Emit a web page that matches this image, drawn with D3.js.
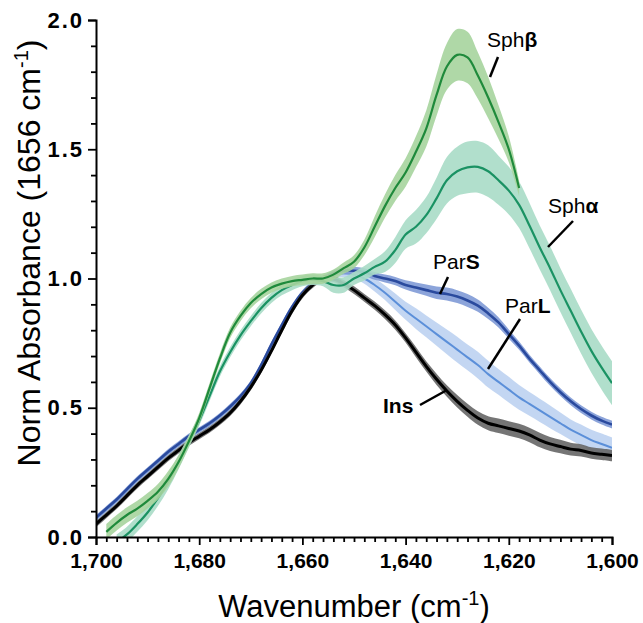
<!DOCTYPE html>
<html lang="en">
<head>
    <meta charset="UTF-8">
    <title>Norm Absorbance</title>
    <style>
        body { margin: 0; background: #fff; }
        svg text { font-family: "Liberation Sans", Arial, sans-serif; }
    </style>
</head>
<body>

<div id="chart-container"></div>

<script src="https://d3js.org/d3.v7.min.js"></script>
<script>
    // wavenumber grid (cm-1), shared by all series
    const wavenumber = [1700,1698,1696,1694,1692,1690,1688,1686,1684,1682,
                        1680,1678,1676,1674,1672,1670,1668,1666,1664,1662,
                        1660,1658,1656,1654,1652,1650,1648,1646,1644,1642,
                        1640,1638,1636,1634,1632,1630,1628,1626,1624,1622,
                        1620,1618,1616,1614,1612,1610,1608,1606,1604,1602,1600];

    const insMean = [0.05,0.085,0.12,0.16,0.20,0.235,0.27,0.305,0.335,0.365,
                     0.39,0.415,0.445,0.48,0.525,0.58,0.645,0.72,0.80,0.875,
                     0.935,0.975,1.0,0.998,0.98,0.955,0.925,0.895,0.86,0.82,
                     0.77,0.715,0.66,0.61,0.565,0.525,0.49,0.46,0.44,0.43,
                     0.42,0.41,0.395,0.375,0.36,0.35,0.34,0.335,0.325,0.32,0.315];
    const insErr  = [0.012,0.012,0.012,0.012,0.012,0.012,0.012,0.012,0.012,0.012,
                     0.012,0.012,0.012,0.012,0.012,0.012,0.012,0.012,0.012,0.012,
                     0.012,0.012,0.012,0.012,0.014,0.015,0.015,0.016,0.017,0.018,
                     0.018,0.02,0.02,0.022,0.022,0.024,0.025,0.026,0.027,0.028,
                     0.028,0.028,0.028,0.028,0.027,0.026,0.025,0.024,0.022,0.022,0.022];

    const parSMean = [0.075,0.11,0.145,0.185,0.225,0.26,0.295,0.33,0.36,0.39,
                      0.415,0.44,0.47,0.505,0.545,0.595,0.665,0.745,0.82,0.89,
                      0.945,0.98,1.0,1.02,1.03,1.03,1.025,1.01,1.0,0.99,
                      0.975,0.965,0.955,0.945,0.94,0.93,0.915,0.895,0.865,0.83,
                      0.785,0.74,0.69,0.645,0.60,0.56,0.525,0.495,0.47,0.45,0.435];
    const parSErr  = [0.01,0.01,0.01,0.01,0.01,0.01,0.01,0.01,0.01,0.01,
                      0.01,0.01,0.01,0.01,0.01,0.01,0.01,0.01,0.01,0.01,
                      0.01,0.01,0.01,0.012,0.014,0.015,0.015,0.015,0.015,0.016,
                      0.018,0.02,0.022,0.024,0.025,0.025,0.025,0.024,0.022,0.02,
                      0.018,0.016,0.015,0.015,0.015,0.015,0.015,0.015,0.015,0.015,0.015];

    const parLMean = [0.07,0.105,0.14,0.18,0.22,0.255,0.29,0.325,0.355,0.385,
                      0.41,0.435,0.465,0.50,0.54,0.59,0.66,0.74,0.815,0.885,
                      0.94,0.978,1.0,1.015,1.02,1.015,1.0,0.975,0.945,0.91,
                      0.875,0.845,0.815,0.785,0.755,0.725,0.695,0.665,0.63,0.60,
                      0.57,0.54,0.515,0.49,0.465,0.44,0.415,0.395,0.375,0.36,0.345];
    const parLErr  = [0.01,0.01,0.01,0.01,0.01,0.01,0.01,0.01,0.01,0.01,
                      0.01,0.01,0.01,0.01,0.01,0.01,0.01,0.01,0.01,0.01,
                      0.01,0.01,0.01,0.012,0.014,0.015,0.02,0.025,0.028,0.032,
                      0.035,0.04,0.042,0.045,0.048,0.05,0.05,0.052,0.052,0.05,
                      0.05,0.048,0.046,0.045,0.044,0.042,0.04,0.04,0.04,0.04,0.04];

    const sphAMean = [null,null,-0.02,0.01,0.05,0.095,0.15,0.215,0.29,0.37,
                      0.45,0.545,0.64,0.715,0.78,0.835,0.885,0.925,0.955,0.975,
                      0.99,0.995,0.99,0.975,0.975,1.0,1.02,1.045,1.065,1.11,
                      1.17,1.20,1.245,1.31,1.38,1.415,1.43,1.432,1.415,1.38,
                      1.34,1.285,1.205,1.12,1.04,0.955,0.875,0.795,0.72,0.655,0.595];
    const sphAErr  = [null,null,0.03,0.03,0.03,0.03,0.03,0.03,0.028,0.025,
                      0.02,0.02,0.02,0.02,0.02,0.02,0.02,0.02,0.02,0.02,
                      0.02,0.02,0.02,0.03,0.03,0.025,0.028,0.03,0.04,0.05,
                      0.055,0.065,0.07,0.08,0.09,0.095,0.1,0.1,0.1,0.095,
                      0.092,0.09,0.088,0.085,0.085,0.085,0.085,0.085,0.085,0.085,0.085];

    const sphBMean = [null,0.02,0.055,0.085,0.11,0.14,0.175,0.225,0.29,0.37,
                      0.46,0.575,0.69,0.79,0.855,0.905,0.94,0.965,0.98,0.99,
                      0.995,1.0,1.0,1.015,1.04,1.065,1.12,1.20,1.28,1.35,
                      1.41,1.49,1.58,1.71,1.82,1.865,1.855,1.785,1.70,1.605,
                      1.50,1.35,null,null,null,null,null,null,null,null,null];
    const sphBErr  = [null,0.03,0.03,0.03,0.03,0.03,0.03,0.03,0.025,0.02,
                      0.02,0.02,0.02,0.02,0.02,0.02,0.02,0.02,0.02,0.02,
                      0.02,0.02,0.02,0.02,0.022,0.025,0.03,0.04,0.045,0.05,
                      0.055,0.06,0.07,0.08,0.09,0.1,0.1,0.09,0.08,0.065,
                      0.05,0.03,null,null,null,null,null,null,null,null,null];

    const xTicks = [1700, 1680, 1660, 1640, 1620, 1600];
    const yTicks = [0, 0.5, 1.0, 1.5, 2.0];

    const width = 643;
    const height = 623;
    const plot = { left: 96, right: 612, top: 20, bottom: 537 };

    const svg = d3.select('#chart-container')
        .append('svg')
        .attr('width', width)
        .attr('height', height);

    const x = d3.scaleLinear().domain([1700, 1600]).range([plot.left, plot.right]);
    const y = d3.scaleLinear().domain([0, 2]).range([plot.bottom, plot.top]);

    svg.append('clipPath').attr('id', 'clip')
        .append('rect')
        .attr('x', plot.left).attr('y', plot.top)
        .attr('width', plot.right - plot.left).attr('height', plot.bottom - plot.top);

    // series in drawing order (bottom first)
    const series = [
        { name: 'ParL', mean: parLMean, err: parLErr, line: '#5b8fd9', band: '#bcd1f1', lw: 2 },
        { name: 'ParS', mean: parSMean, err: parSErr, line: '#2a4a9e', band: '#7f9ad6', lw: 2.6 },
        { name: 'Ins',  mean: insMean,  err: insErr,  line: '#000000', band: '#666666', lw: 3 },
        { name: 'Sphα', mean: sphAMean, err: sphAErr, line: '#1a9263', band: '#a9dcc6', lw: 2.2 },
        { name: 'Sphβ', mean: sphBMean, err: sphBErr, line: '#1f8a3b', band: '#a6d49d', lw: 2.2 }
    ];

    const curve = d3.curveCatmullRom.alpha(0.5);
    const layer = svg.append('g').attr('clip-path', 'url(#clip)');

    series.forEach(s => {
        const pts = wavenumber.map((w, i) => ({ w: w, m: s.mean[i], e: s.err[i] }));

        const area = d3.area()
            .defined(d => d.m != null)
            .x(d => x(d.w))
            .y0(d => y(d.m - d.e))
            .y1(d => y(d.m + d.e))
            .curve(curve);

        const line = d3.line()
            .defined(d => d.m != null)
            .x(d => x(d.w))
            .y(d => y(d.m))
            .curve(curve);

        layer.append('path')
            .attr('d', area(pts))
            .attr('fill', s.band)
            .attr('opacity', 0.9);

        layer.append('path')
            .attr('d', line(pts))
            .attr('fill', 'none')
            .attr('stroke', s.line)
            .attr('stroke-width', s.lw);
    });

    // axes
    const fmtX = d3.format(',');
    const xMinor = wavenumber.filter(w => xTicks.indexOf(w) < 0);
    const yMinor = [0.1,0.2,0.3,0.4,0.6,0.7,0.8,0.9,1.1,1.2,1.3,1.4,1.6,1.7,1.8,1.9];

    svg.append('g')
        .attr('transform', `translate(0,${plot.bottom})`)
        .call(d3.axisBottom(x).tickValues(xTicks).tickFormat(fmtX).tickSize(8).tickPadding(8))
        .call(g => g.selectAll('.tick text').style('font-size', '21px'));
    svg.append('g')
        .attr('transform', `translate(0,${plot.bottom})`)
        .call(d3.axisBottom(x).tickValues(xMinor).tickFormat('').tickSize(5))
        .call(g => g.select('.domain').remove());

    svg.append('g')
        .attr('transform', `translate(${plot.left},0)`)
        .call(d3.axisLeft(y).tickValues(yTicks).tickFormat(d3.format('.1f')).tickSize(8).tickPadding(4))
        .call(g => g.selectAll('.tick text').style('font-size', '22px').style('letter-spacing', '2px'));
    svg.append('g')
        .attr('transform', `translate(${plot.left},0)`)
        .call(d3.axisLeft(y).tickValues(yMinor).tickFormat('').tickSize(5))
        .call(g => g.select('.domain').remove());

    svg.selectAll('.domain').attr('stroke', '#000').attr('stroke-width', 2);
    svg.selectAll('.tick line').attr('stroke', '#000').attr('stroke-width', 1.8);
    svg.selectAll('.tick text')
        .attr('fill', '#000')
        .style('font-weight', 'bold');

    // axis titles
    const xTitle = svg.append('text')
        .attr('x', (plot.left + plot.right) / 2)
        .attr('y', 617)
        .attr('text-anchor', 'middle')
        .style('font-size', '31px');
    xTitle.append('tspan').text('Wavenumber (cm');
    xTitle.append('tspan').attr('dy', -12).style('font-size', '20px').text('-1');
    xTitle.append('tspan').attr('dy', 12).text(')');

    const yTitle = svg.append('text')
        .attr('transform', 'translate(40,253) rotate(-90)')
        .attr('text-anchor', 'middle')
        .style('font-size', '32px');
    yTitle.append('tspan').text('Norm Absorbance (1656 cm');
    yTitle.append('tspan').attr('dy', -12).style('font-size', '20px').text('-1');
    yTitle.append('tspan').attr('dy', 12).text(')');

    // series labels with leader lines
    const labels = [
        { pre: 'Sph', bold: 'β', tx: 487, ty: 47,  l: [498, 57, 490, 77] },
        { pre: 'Sph', bold: 'α', tx: 548, ty: 213, l: [573, 221, 548, 247] },
        { pre: 'Par', bold: 'S', tx: 433, ty: 269, l: [448, 277, 440, 294] },
        { pre: 'Par', bold: 'L', tx: 505, ty: 313, l: [520, 319, 488, 369] },
        { pre: '',    bold: 'Ins', tx: 383, ty: 413, l: [420, 405, 447, 390] }
    ];

    labels.forEach(d => {
        const t = svg.append('text')
            .attr('x', d.tx).attr('y', d.ty)
            .style('font-size', '21px');
        t.append('tspan').text(d.pre);
        t.append('tspan').style('font-weight', 'bold').text(d.bold);
        svg.append('line')
            .attr('x1', d.l[0]).attr('y1', d.l[1])
            .attr('x2', d.l[2]).attr('y2', d.l[3])
            .attr('stroke', '#000').attr('stroke-width', 2.5);
    });
</script>

</body>
</html>
